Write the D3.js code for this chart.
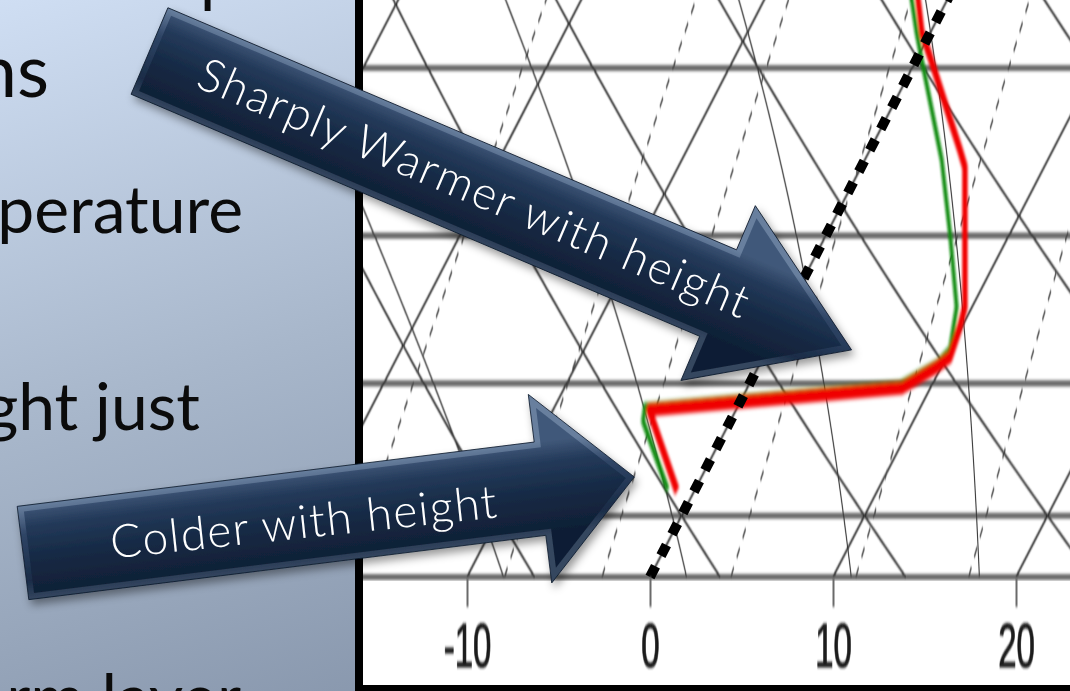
<!DOCTYPE html>
<html><head><meta charset="utf-8">
<script src="https://cdn.jsdelivr.net/npm/d3@7"></script>
<style>html,body{margin:0;padding:0;overflow:hidden;background:#fff}</style>
</head><body><svg id="c" width="1070" height="691"></svg>
<script>
// ---------------- data ----------------
const pressureLevels = [1050, 1000, 900, 800, 700];
const tickValues = [-10, 0, 10, 20];
const tickLabels = ["-10", "0", "10", "20"];
const tempPressure = [980.5, 919.2, 903.2, 888.2, 881.2, 860.4, 846.8, 757.4, 747.2, 693.8, 680.7, 663.0, 650];
const tempValues   = [-0.94, -4.75, 8.45, 9.77, 10.2, 9.9, 9.61, 5.67, 4.92, 0.67, -0.45, -1.59, -2.4];
const dewPressure  = [979.7, 927.3, 917.0, 901.0, 885.4, 876.3, 846.8, 798.3, 753.1, 695.5, 680.7, 663.0, 650];
const dewValues    = [-1.47, -4.77, -5.06, 8.26, 9.71, 10.0, 9.16, 6.71, 4.2, 0.3, -0.74, -1.94, -2.8];
const highlightIsotherm = 0;
const isothermValues = d3.range(-80, 50, 10);
const dryAdiabatsC = d3.range(-40, 70, 10);
const moistStartC = [-18, -8, 2, 11, 18, 26];
const mixingRatios = [1, 2, 3, 5, 8, 12, 20];
const leftTexts = ["p", "ns", "perature", "ght just", "rm layer"];
const arrowTexts = ["Sharply Warmer with height", "Colder with height"];

// ---------------- setup ----------------
const S = 2.4;      // vertical stretch of the sounding picture
const ST = 1.9;     // vertical stretch of axis labels
const svg = d3.select("#c");
const defs = svg.append("defs");

const bg = defs.append("linearGradient").attr("id", "bg")
  .attr("x1", 0).attr("y1", 0).attr("x2", 0.5).attr("y2", 1);
[["0", "#cfdef3"], ["0.5", "#a8b7cb"], ["1", "#8594aa"]].forEach(s =>
  bg.append("stop").attr("offset", s[0]).attr("stop-color", s[1]));

const soft = defs.append("filter").attr("id", "soft").attr("filterUnits", "userSpaceOnUse")
  .attr("x", 0).attr("y", -200).attr("width", 1200).attr("height", 600);
soft.append("feGaussianBlur").attr("stdDeviation", 0.7);
const soft2 = defs.append("filter").attr("id", "soft2").attr("filterUnits", "userSpaceOnUse")
  .attr("x", 0).attr("y", -200).attr("width", 1200).attr("height", 600);
soft2.append("feGaussianBlur").attr("stdDeviation", 0.9);
const soft3 = defs.append("filter").attr("id", "soft3").attr("filterUnits", "userSpaceOnUse")
  .attr("x", 300).attr("y", 200).attr("width", 800).attr("height", 300);
soft3.append("feGaussianBlur").attr("stdDeviation", 0.7);

const shadow = defs.append("filter").attr("id", "shadow")
  .attr("x", "-20%").attr("y", "-20%").attr("width", "140%").attr("height", "140%");
shadow.append("feDropShadow").attr("dx", 3).attr("dy", 5).attr("stdDeviation", 4)
  .attr("flood-color", "#000").attr("flood-opacity", 0.4);

const body = defs.append("linearGradient").attr("id", "body").attr("gradientUnits", "userSpaceOnUse")
  .attr("x1", 0).attr("y1", -47).attr("x2", 0).attr("y2", 47);
[["0", "#41597a"], ["0.22", "#243a5a"], ["0.55", "#162a45"], ["1", "#0f1e34"]].forEach(s =>
  body.append("stop").attr("offset", s[0]).attr("stop-color", s[1]));
const bevel = defs.append("linearGradient").attr("id", "bevel").attr("gradientUnits", "userSpaceOnUse")
  .attr("x1", 0).attr("y1", -47).attr("x2", 0).attr("y2", 47);
[["0", "#687f9e"], ["0.3", "#2f4566"], ["0.8", "#1a2c47"], ["1", "#34465f"]].forEach(s =>
  bevel.append("stop").attr("offset", s[0]).attr("stop-color", s[1]));

// background
svg.append("rect").attr("width", 1070).attr("height", 691).attr("fill", "url(#bg)");

// left slide text (cut-off bullet text)
const leftFont = "Lato, 'Open Sans', sans-serif";
const leftLayout = [
  {x: 200, y: 0, size: 66, anchor: "start"},
  {x: 49, y: 97, size: 74, anchor: "end"},
  {x: 243, y: 233, size: 66, anchor: "end"},
  {x: 200, y: 430, size: 66, anchor: "end"},
  {x: 241, y: 721, size: 66, anchor: "end"}
];
leftTexts.forEach((t, i) => {
  const L = leftLayout[i];
  svg.append("text").attr("x", L.x).attr("y", L.y)
    .attr("font-family", leftFont).attr("font-size", L.size).attr("fill", "#0b0b0b")
    .attr("text-anchor", L.anchor).text(t);
});

// chart panel
svg.append("rect").attr("x", 359).attr("y", -20).attr("width", 760).attr("height", 709).attr("fill", "#fff");

// scales
const yP = d3.scaleLog().domain([1050, 700]).range([577, 68]);
const xT = d3.scaleLinear().domain([0, 10]).range([650, 833]);
const SKEW = 0.515;
const X = (T, p) => xT(T) + SKEW * (yP(1050) - yP(p));
const lineU = d3.line().x(d => X(d.T, d.p)).y(d => yP(d.p) / S);

defs.append("clipPath").attr("id", "plotClip").append("rect")
  .attr("x", 363).attr("y", -60).attr("width", 720).attr("height", 641);

const plot = svg.append("g").attr("clip-path", "url(#plotClip)");
const gs = plot.append("g").attr("transform", `scale(1,${S})`);
const grid = gs.append("g").attr("filter", "url(#soft)");

const pSamples = d3.range(1050, 619, -5);

// isobars
pressureLevels.forEach(p => {
  grid.append("path").attr("d", d3.line()([[340, yP(p) / S], [1090, yP(p) / S]]))
    .attr("stroke", "#6a6a6a").attr("stroke-width", 2.6).attr("fill", "none");
});
// isotherms
isothermValues.forEach(T => {
  grid.append("path").datum([{T, p: 1050}, {T, p: 620}]).attr("d", lineU)
    .attr("stroke", "#2e2e2e").attr("stroke-width", 1.3).attr("fill", "none");
});
// dry adiabats
dryAdiabatsC.forEach(th => {
  const theta = th + 273.15;
  const pts = pSamples.map(p => ({p, T: theta * Math.pow(p / 1000, 0.2857) - 273.15}));
  grid.append("path").datum(pts).attr("d", lineU)
    .attr("stroke", "#2e2e2e").attr("stroke-width", 1.3).attr("fill", "none");
});
// moist adiabats
function es(T) { return 6.112 * Math.exp(17.67 * T / (T + 243.5)); }
function dTdp(T, p) {
  const Tk = T + 273.15, e = es(T), rs = 0.622 * e / (p - e);
  const Rd = 287.04, cp = 1005.7, Lv = 2.501e6;
  return (1 / p) * (Rd * Tk + Lv * rs) / (cp + Lv * Lv * rs * 0.622 / (Rd * Tk * Tk));
}
moistStartC.forEach(T0 => {
  const pts = [];
  let T = T0;
  for (let p = 1050; p >= 620; p -= 2) {
    pts.push({p, T});
    const k1 = dTdp(T, p), k2 = dTdp(T - 2 * k1, p - 2);
    T = T - 2 * (k1 + k2) / 2;
  }
  grid.append("path").datum(pts).attr("d", lineU)
    .attr("stroke", "#3a3a3a").attr("stroke-width", 1.1).attr("fill", "none");
});
// mixing ratio lines
mixingRatios.forEach(w => {
  const pts = pSamples.map(p => {
    const e = w * p / (622 + w), a = Math.log(e / 6.112);
    return {p, T: 243.5 * a / (17.67 - a)};
  });
  grid.append("path").datum(pts).attr("d", lineU)
    .attr("stroke", "#444").attr("stroke-width", 1.2).attr("stroke-dasharray", "5 5").attr("fill", "none");
});

// sounding
const snd = gs.append("g").attr("filter", "url(#soft2)");
const dew = dewPressure.map((p, i) => ({p, T: dewValues[i]}));
const tmp = tempPressure.map((p, i) => ({p, T: tempValues[i]}));
snd.append("path").datum(dew).attr("d", lineU).attr("stroke", "#0a8a0a").attr("stroke-width", 3.8)
  .attr("fill", "none").attr("stroke-linejoin", "round");
snd.append("path").datum(tmp).attr("d", lineU).attr("stroke", "#f00000").attr("stroke-width", 5.4)
  .attr("fill", "none").attr("stroke-linejoin", "round");

// highlighted 0 C isotherm (dotted)
plot.append("path")
  .attr("d", d3.line()([[X(highlightIsotherm, 1050), yP(1050)], [X(highlightIsotherm, 620), yP(620)]]))
  .attr("stroke", "#000").attr("stroke-width", 10).attr("stroke-dasharray", "12 12").attr("fill", "none");

// x axis
const axG = svg.append("g").attr("transform", `scale(1,${ST})`).attr("filter", "url(#soft3)");
const axis = d3.axisBottom(xT).tickValues(tickValues).tickFormat((d, i) => tickLabels[i])
  .tickSize(30 / ST).tickPadding(0);
const ax = axG.append("g").attr("transform", `translate(0,${577 / ST})`).call(axis);
ax.select(".domain").remove();
ax.selectAll(".tick line").attr("stroke", "#6a6a6a").attr("stroke-width", 2);
ax.selectAll(".tick text").attr("y", (667 - 577) / ST).attr("dy", 0)
  .attr("font-size", 33).attr("font-family", "'Liberation Sans', Arial, sans-serif").attr("fill", "#1a1a1a")
  .attr("stroke", "#1a1a1a").attr("stroke-width", 0.6);

// chart border
svg.append("rect").attr("x", 359).attr("y", -20).attr("width", 760).attr("height", 709)
  .attr("fill", "none").attr("stroke", "#000").attr("stroke-width", 8);

// ---------------- arrows ----------------
function insetPoly(pts, d) {
  const n = pts.length, lines = [];
  for (let i = 0; i < n; i++) {
    const a = pts[i], b = pts[(i + 1) % n];
    const dx = b[0] - a[0], dy = b[1] - a[1], len = Math.hypot(dx, dy);
    lines.push({p: [a[0] - dy / len * d, a[1] + dx / len * d], v: [dx, dy]});
  }
  return pts.map((_, i) => {
    const l1 = lines[(i - 1 + n) % n], l2 = lines[i];
    const den = l1.v[0] * l2.v[1] - l1.v[1] * l2.v[0];
    const t = ((l2.p[0] - l1.p[0]) * l2.v[1] - (l2.p[1] - l1.p[1]) * l2.v[0]) / den;
    return [l1.p[0] + t * l1.v[0], l1.p[1] + t * l1.v[1]];
  });
}
function drawArrow(o) {
  const wrap = svg.append("g").attr("filter", "url(#shadow)");
  const g = wrap.append("g").attr("transform", `translate(${o.x},${o.y}) rotate(${o.angle})`);
  const pts = [[0, -o.bh], [o.l0, -o.bh], [o.l0, -o.hh], [o.tip, 0], [o.l0, o.hh], [o.l0, o.bh], [0, o.bh]];
  g.append("path").attr("d", d3.line()(pts) + "Z").attr("fill", "url(#bevel)")
    .attr("stroke", "#0d1a2c").attr("stroke-width", 0.8);
  g.append("path").attr("d", d3.line()(insetPoly(pts, 6)) + "Z").attr("fill", "url(#body)");
  return {wrap, g};
}
const a1 = drawArrow({x: 149.5, y: 51, angle: 23.06, l0: 618, tip: 763, bh: 47, hh: 95});
a1.g.append("text").attr("x", 352).attr("y", 15).attr("text-anchor", "middle")
  .attr("font-family", "Lato, 'Open Sans', sans-serif").attr("font-weight", 300)
  .attr("font-size", 46).attr("fill", "#fff")
  .attr("textLength", 594).attr("lengthAdjust", "spacing").text(arrowTexts[0]);

const a2 = drawArrow({x: 23, y: 553, angle: -7.09, l0: 521, tip: 616, bh: 47, hh: 95});
a2.wrap.append("text").attr("transform", "translate(305,538) rotate(-6.1)")
  .attr("text-anchor", "middle")
  .attr("font-family", "Lato, 'Open Sans', sans-serif").attr("font-weight", 300)
  .attr("font-size", 46).attr("fill", "#fff")
  .attr("textLength", 388).attr("lengthAdjust", "spacing").text(arrowTexts[1]);
</script>
</body></html>
